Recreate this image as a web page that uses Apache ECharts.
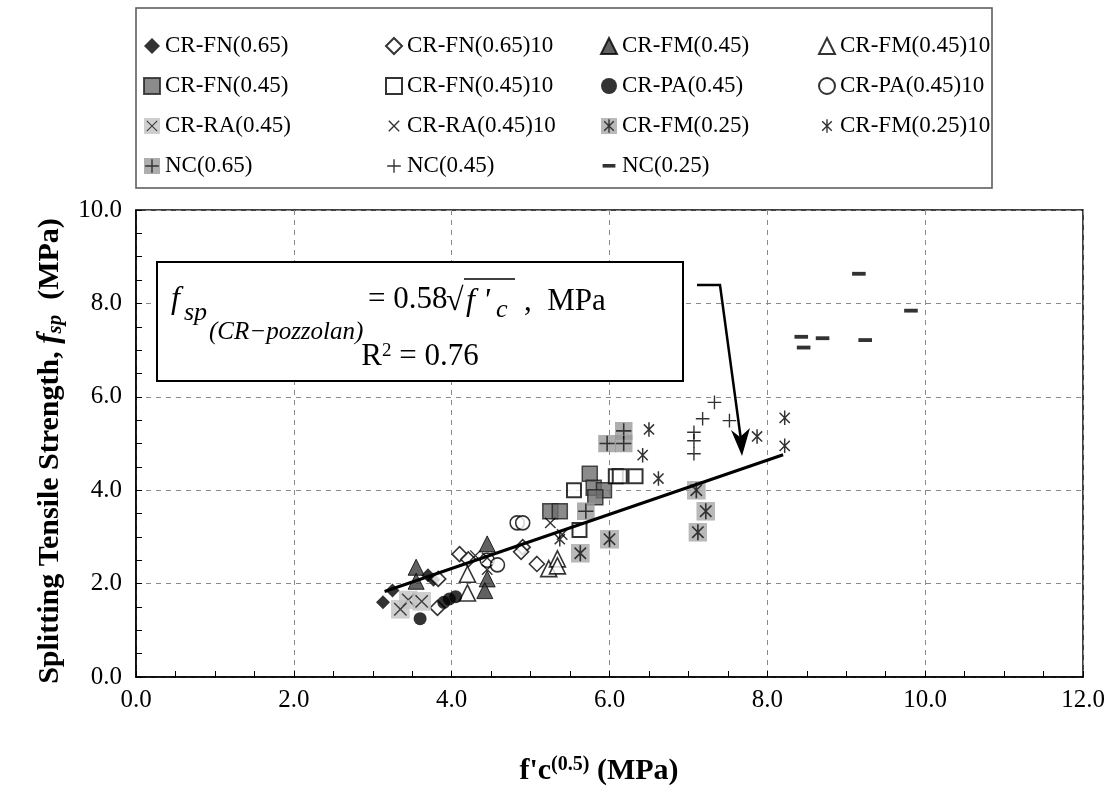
<!DOCTYPE html>
<html>
<head>
<meta charset="utf-8">
<script src="https://cdn.jsdelivr.net/npm/echarts@6/dist/echarts.min.js"></script>
<style>html,body{margin:0;padding:0;background:#fff}#c{width:1118px;height:795px}</style>
</head>
<body>
<div id="c"></div>
<script>
// ---- data (x = f'c^0.5 in MPa^0.5, y = splitting tensile strength MPa) ----
const crFN065    = [[3.13,1.6],[3.25,1.85],[3.7,2.18],[3.77,2.08]];
const crFN065_10 = [[3.82,1.48],[3.83,2.1],[4.1,2.63],[4.21,2.52],[4.9,2.78],[4.88,2.68],[5.08,2.42]];
const crFM045    = [[3.55,2.35],[3.55,2.05],[4.45,2.85],[4.45,2.1],[4.42,1.85]];
const crFM045_10 = [[4.2,2.2],[4.2,1.8],[5.23,2.32],[5.34,2.53],[5.34,2.38]];
const crFN045    = [[5.25,3.55],[5.37,3.55],[5.75,4.35],[5.8,4.05],[5.93,4.0],[5.82,3.85]];
const crFN045_10 = [[5.55,4.0],[5.62,3.15],[6.08,4.3],[6.13,4.3],[6.33,4.3]];
const crPA045    = [[3.6,1.25],[3.9,1.6],[3.97,1.67],[4.05,1.72]];
const crPA045_10 = [[4.83,3.3],[4.9,3.3],[4.45,2.5],[4.58,2.4]];
const crRA045    = [[3.45,1.65],[3.35,1.45],[3.62,1.62]];
const crRA045_10 = [[4.3,2.6],[4.45,2.55],[4.45,2.3],[5.25,3.3],[5.4,3.05]];
const crFM025    = [[5.63,2.65],[6.0,2.95],[7.1,4.0],[7.22,3.55],[7.12,3.1]];
const crFM025_10 = [[5.37,2.95],[6.5,5.3],[6.42,4.75],[6.62,4.25],[7.87,5.15],[8.22,5.55],[8.22,4.95]];
const nc065      = [[5.97,5.0],[6.18,5.27],[6.18,5.0],[5.7,3.55]];
const nc045      = [[7.33,5.88],[7.18,5.53],[7.52,5.49],[7.07,5.24],[7.07,5.06],[7.07,4.78]];
const nc025      = [[8.43,7.28],[8.46,7.05],[8.7,7.25],[9.16,8.63],[9.24,7.21],[9.82,7.84]];
const trendLine  = [[3.15,1.83],[8.2,4.76]];
const xTicks = [0,2,4,6,8,10,12];
const yTicks = [0,2,4,6,8,10];

const legendCols = [
  ['CR-FN(0.65)','CR-FN(0.45)','CR-RA(0.45)','NC(0.65)'],
  ['CR-FN(0.65)10','CR-FN(0.45)10','CR-RA(0.45)10','NC(0.45)'],
  ['CR-FM(0.45)','CR-PA(0.45)','CR-FM(0.25)','NC(0.25)'],
  ['CR-FM(0.45)10','CR-PA(0.45)10','CR-FM(0.25)10']
];

// ---- symbols ----
function svgSym(inner){
  return 'image://data:image/svg+xml;charset=utf-8,' + encodeURIComponent(
    '<svg xmlns="http://www.w3.org/2000/svg" width="40" height="40" viewBox="0 0 40 40">' + inner + '</svg>');
}
const symX        = svgSym('<path d="M7 7L33 33M33 7L7 33" stroke="#000" stroke-width="3.5" fill="none"/>');
const symGrayX    = svgSym('<rect x="0" y="0" width="40" height="40" fill="#c4c4c4"/><path d="M7 7L33 33M33 7L7 33" stroke="#111" stroke-width="3" fill="none"/>');
const symAst      = svgSym('<path d="M8 8L32 32M32 8L8 32M20 3L20 37" stroke="#000" stroke-width="3.5" fill="none"/>');
const symGrayAst  = svgSym('<rect x="0" y="0" width="40" height="40" fill="#a8a8a8"/><path d="M8 8L32 32M32 8L8 32M20 3L20 37" stroke="#000" stroke-width="3.5" fill="none"/>');
const symPlus     = svgSym('<path d="M20 3V37M3 20H37" stroke="#000" stroke-width="3.5" fill="none"/>');
const symGrayPlus = svgSym('<rect x="0" y="0" width="40" height="40" fill="#9a9a9a"/><path d="M20 3V37M3 20H37" stroke="#000" stroke-width="3.5" fill="none"/>');
const symDash     = svgSym('<rect x="4" y="15" width="32" height="9" fill="#000"/>');

const openStyle = {color:'#fff', borderColor:'#000', borderWidth:1.6};
function sc(name, data, symbol, size, itemStyle){
  return {name, type:'scatter', data, symbol, symbolSize:size, itemStyle: itemStyle || {color:'#000'}, z:3};
}

const FONT = '"Liberation Serif", "Times New Roman", serif';
const chart = echarts.init(document.getElementById('c'));
const legendBase = {orient:'vertical', top:29, itemGap:16, itemWidth:16, itemHeight:16, selectedMode:false,
  textStyle:{fontFamily:FONT, fontSize:23, color:'#000', lineHeight:24}};
const legendLefts = [138, 380, 595, 813];

chart.setOption({
  backgroundColor:'#fff',
  animation:false,
  legend: legendCols.map((col,i)=>Object.assign({}, legendBase, {data:col, left:legendLefts[i]})),
  grid:{left:136, right:35, top:210, bottom:118, show:true, borderColor:'#000', borderWidth:1.5, backgroundColor:'transparent'},
  xAxis:{type:'value', min:xTicks[0], max:xTicks[xTicks.length-1], interval:2,
    axisLine:{lineStyle:{color:'#000', width:1.5}},
    axisTick:{inside:true, length:6, lineStyle:{color:'#000'}},
    minorTick:{show:true, splitNumber:4, length:6, lineStyle:{color:'#000'}},
    splitLine:{show:true, lineStyle:{type:[5,5], color:'#8a8a8a', width:1}},
    axisLabel:{formatter:v=>v.toFixed(1), fontFamily:FONT, fontSize:25, color:'#000', margin:11}},
  yAxis:{type:'value', min:yTicks[0], max:yTicks[yTicks.length-1], interval:2,
    axisLine:{show:true, lineStyle:{color:'#000', width:1.5}},
    axisTick:{show:true, inside:true, length:6, lineStyle:{color:'#000'}},
    minorTick:{show:true, splitNumber:4, length:6, lineStyle:{color:'#000'}},
    splitLine:{show:true, lineStyle:{type:[5,5], color:'#8a8a8a', width:1}},
    axisLabel:{formatter:v=>v.toFixed(1), fontFamily:FONT, fontSize:25, color:'#000', margin:14}},
  series:[
    sc('CR-FN(0.65)', crFN065, 'diamond', 14),
    sc('CR-FN(0.65)10', crFN065_10, 'diamond', 15, openStyle),
    sc('CR-FM(0.45)', crFM045, 'triangle', 16, {color:'#3a3a3a', borderColor:'#000', borderWidth:1}),
    sc('CR-FM(0.45)10', crFM045_10, 'triangle', 16, openStyle),
    sc('CR-FN(0.45)', crFN045, 'rect', 15, {color:'#6e6e6e', borderColor:'#222', borderWidth:1.5}),
    sc('CR-FN(0.45)10', crFN045_10, 'rect', 14, {color:'#fff', borderColor:'#000', borderWidth:2}),
    sc('CR-PA(0.45)', crPA045, 'circle', 13),
    sc('CR-PA(0.45)10', crPA045_10, 'circle', 14, openStyle),
    sc('CR-RA(0.45)', crRA045, symGrayX, 19),
    sc('CR-RA(0.45)10', crRA045_10, symX, 16),
    sc('CR-FM(0.25)', crFM025, symGrayAst, 19),
    sc('CR-FM(0.25)10', crFM025_10, symAst, 17),
    sc('NC(0.65)', nc065, symGrayPlus, 18),
    sc('NC(0.45)', nc045, symPlus, 16),
    sc('NC(0.25)', nc025, symDash, 17),
    {name:'trend', type:'line', data:trendLine, symbol:'none', lineStyle:{color:'#000', width:3}, z:5, silent:true}
  ],
  graphic:[
    {type:'rect', shape:{x:136, y:8, width:856, height:180}, style:{fill:'none', stroke:'#555', lineWidth:1.5}, z:10},
    // equation box
    {type:'rect', shape:{x:157, y:262, width:526, height:119}, style:{fill:'#fff', stroke:'#000', lineWidth:2}, z:10},
    {type:'text', x:171, y:300, style:{text:'f', font:'italic 32px '+FONT, fill:'#000', verticalAlign:'middle'}, z:11},
    {type:'text', x:184, y:313, style:{text:'sp', font:'italic 26px '+FONT, fill:'#000', verticalAlign:'middle'}, z:11},
    {type:'text', x:209, y:332, style:{text:'(CR\u2212pozzolan)', font:'italic 25px '+FONT, fill:'#000', verticalAlign:'middle'}, z:11},
    {type:'text', x:368, y:300, style:{text:'= 0.58', font:'31px '+FONT, fill:'#000', verticalAlign:'middle'}, z:11},
    {type:'text', x:446, y:302, style:{text:'\u221A', font:'32px '+FONT, fill:'#000', verticalAlign:'middle'}, z:11},
    {type:'line', shape:{x1:464, y1:279, x2:515, y2:279}, style:{stroke:'#000', lineWidth:1.5}, z:11},
    {type:'text', x:466, y:302, style:{text:'f \'', font:'italic 32px '+FONT, fill:'#000', verticalAlign:'middle'}, z:11},
    {type:'text', x:496, y:310, style:{text:'c', font:'italic 26px '+FONT, fill:'#000', verticalAlign:'middle'}, z:11},
    {type:'text', x:524, y:302, style:{text:',  MPa', font:'31px '+FONT, fill:'#000', verticalAlign:'middle'}, z:11},
    {type:'text', x:420, y:357, style:{text:'R{s|2} = 0.76', font:'31px '+FONT, fill:'#000', align:'center', verticalAlign:'middle',
      rich:{s:{fontSize:19, fontFamily:FONT, verticalAlign:'top', padding:[0,0,12,0]}}}, z:11},
    // arrow
    {type:'polyline', shape:{points:[[697,285],[720,285],[741,440]]}, style:{stroke:'#000', lineWidth:2.5, fill:'none'}, z:11},
    {type:'polygon', shape:{points:[[742,456],[731,430],[740,437],[750,428]]}, style:{fill:'#000'}, z:11},
    // axis titles
    {type:'text', x:50, y:451, rotation:Math.PI/2, style:{text:'Splitting Tensile Strength, {i|f}{s|sp}  (MPa)',
      font:'bold 30px '+FONT, fill:'#000', align:'center', verticalAlign:'middle',
      rich:{i:{fontStyle:'italic', fontWeight:'bold', fontSize:31, fontFamily:FONT},
            s:{fontStyle:'italic', fontWeight:'bold', fontSize:21, fontFamily:FONT, verticalAlign:'bottom', padding:[11,0,0,0]}}}, z:11},
    {type:'text', x:599, y:771, style:{text:'f\'c{s|(0.5)} (MPa)', font:'bold 30px '+FONT, fill:'#000', align:'center', verticalAlign:'middle',
      rich:{s:{fontSize:20, fontWeight:'bold', fontFamily:FONT, verticalAlign:'top', padding:[0,0,13,0]}}}, z:11}
  ]
});
</script>
</body>
</html>
